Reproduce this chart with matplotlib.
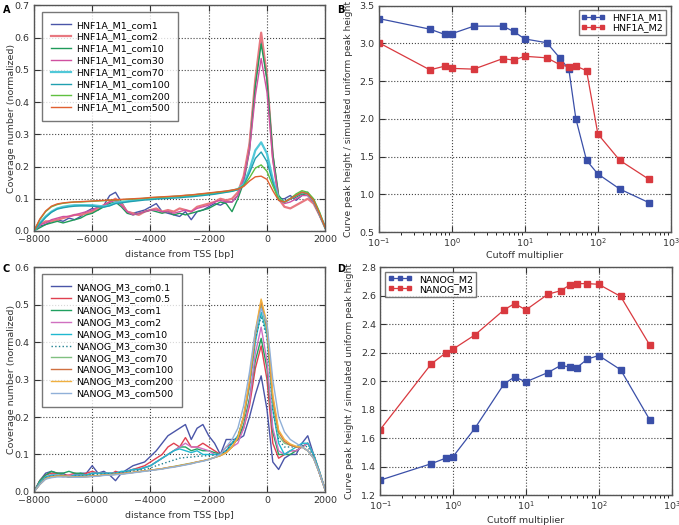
import matplotlib
matplotlib.use('Agg')
import matplotlib.pyplot as plt
import numpy as np

## Data
# distance from TSS, every 200 bp
dist = list(range(-8000, 2001, 200))

# Panel A : HNF1A_M1 coverage profiles
hnf_labels = ['HNF1A_M1_com1', 'HNF1A_M1_com2', 'HNF1A_M1_com10', 'HNF1A_M1_com30',
              'HNF1A_M1_com70', 'HNF1A_M1_com100', 'HNF1A_M1_com200', 'HNF1A_M1_com500']
hnf_com1 = [0.0, 0.015, 0.02, 0.03, 0.035, 0.03, 0.04, 0.035, 0.045, 0.06, 0.07, 0.065, 0.08, 0.11, 0.12,
            0.09, 0.06, 0.055, 0.06, 0.065, 0.075, 0.085, 0.06, 0.055, 0.05, 0.045, 0.06, 0.035, 0.06, 0.065,
            0.075, 0.085, 0.08, 0.09, 0.09, 0.11, 0.16, 0.27, 0.46, 0.60, 0.47, 0.23, 0.1, 0.1, 0.11,
            0.095, 0.11, 0.12, 0.09, 0.05, 0.01]
hnf_com2 = [0.0, 0.02, 0.03, 0.03, 0.035, 0.04, 0.045, 0.05, 0.05, 0.055, 0.06, 0.07, 0.08, 0.09, 0.1,
            0.085, 0.06, 0.055, 0.05, 0.06, 0.065, 0.07, 0.06, 0.065, 0.06, 0.07, 0.065, 0.06, 0.075, 0.08,
            0.085, 0.09, 0.1, 0.095, 0.1, 0.12, 0.17, 0.27, 0.47, 0.615, 0.48, 0.23, 0.1, 0.075, 0.07,
            0.08, 0.09, 0.1, 0.085, 0.05, 0.01]
hnf_com10 = [0.0, 0.01, 0.02, 0.025, 0.03, 0.025, 0.03, 0.035, 0.04, 0.05, 0.055, 0.065, 0.075, 0.085, 0.09,
             0.075, 0.055, 0.05, 0.055, 0.06, 0.065, 0.06, 0.055, 0.06, 0.05, 0.055, 0.05, 0.055, 0.06, 0.065,
             0.07, 0.08, 0.09, 0.085, 0.06, 0.1, 0.15, 0.25, 0.45, 0.58, 0.47, 0.24, 0.11, 0.09, 0.1,
             0.105, 0.115, 0.11, 0.09, 0.05, 0.01]
hnf_com30 = [0.0, 0.02, 0.025, 0.035, 0.04, 0.045, 0.045, 0.05, 0.055, 0.06, 0.065, 0.075, 0.08, 0.09, 0.095,
             0.08, 0.06, 0.05, 0.055, 0.06, 0.065, 0.065, 0.06, 0.06, 0.055, 0.06, 0.065, 0.06, 0.07, 0.075,
             0.08, 0.09, 0.095, 0.09, 0.09, 0.11, 0.16, 0.25, 0.42, 0.535, 0.43, 0.22, 0.1, 0.085, 0.09,
             0.1, 0.11, 0.11, 0.09, 0.05, 0.01]
hnf_com70 = [0.0, 0.025, 0.045, 0.06, 0.07, 0.075, 0.078, 0.08, 0.08, 0.08, 0.08, 0.078, 0.076, 0.08, 0.088,
             0.09, 0.092, 0.095, 0.097, 0.1, 0.1, 0.102, 0.103, 0.105, 0.106, 0.107, 0.108, 0.11, 0.112, 0.113,
             0.115, 0.117, 0.12, 0.122, 0.125, 0.13, 0.145, 0.19, 0.25, 0.275, 0.24, 0.16, 0.1, 0.09, 0.1,
             0.11, 0.12, 0.115, 0.095, 0.055, 0.01]
hnf_com100 = [0.0, 0.022, 0.042, 0.058, 0.068, 0.072, 0.075, 0.077, 0.078, 0.078, 0.077, 0.075, 0.074, 0.078, 0.085,
              0.087, 0.09, 0.092, 0.094, 0.096, 0.097, 0.099, 0.1, 0.101, 0.102, 0.103, 0.105, 0.106, 0.108, 0.11,
              0.112, 0.114, 0.117, 0.12, 0.123, 0.128, 0.142, 0.18, 0.225, 0.245, 0.215, 0.15, 0.095, 0.09, 0.1,
              0.11, 0.12, 0.115, 0.095, 0.055, 0.01]
hnf_com200 = [0.0, 0.035, 0.06, 0.075, 0.082, 0.086, 0.088, 0.09, 0.09, 0.091, 0.092, 0.093, 0.094, 0.095, 0.096,
              0.097, 0.098, 0.099, 0.1, 0.101, 0.103, 0.104, 0.105, 0.106, 0.107, 0.108, 0.11, 0.111, 0.113, 0.115,
              0.117, 0.119, 0.121, 0.123, 0.126, 0.13, 0.14, 0.165, 0.195, 0.205, 0.185, 0.14, 0.1, 0.09, 0.1,
              0.115, 0.125, 0.12, 0.1, 0.06, 0.01]
hnf_com500 = [0.0, 0.037, 0.062, 0.077, 0.084, 0.087, 0.089, 0.09, 0.091, 0.092, 0.093, 0.094, 0.095, 0.096, 0.097,
              0.098, 0.099, 0.1, 0.101, 0.102, 0.104, 0.105, 0.106, 0.107, 0.108, 0.109, 0.111, 0.112, 0.114, 0.116,
              0.118, 0.12, 0.122, 0.124, 0.127, 0.13, 0.138, 0.155, 0.168, 0.17, 0.16, 0.125, 0.095, 0.09, 0.1,
              0.11, 0.12, 0.115, 0.095, 0.055, 0.01]
hnf_colors = ['#4a55a8', '#e87880', '#1f9a5a', '#d050a0', '#50c8d8', '#20a0b0', '#60c040', '#e06030']
hnf_widths = [1.0, 1.6, 1.0, 1.0, 1.6, 1.0, 1.0, 1.0]

# Panel C : NANOG_M3 coverage profiles
nan_labels = ['NANOG_M3_com0.1', 'NANOG_M3_com0.5', 'NANOG_M3_com1', 'NANOG_M3_com2', 'NANOG_M3_com10',
              'NANOG_M3_com30', 'NANOG_M3_com70', 'NANOG_M3_com100', 'NANOG_M3_com200', 'NANOG_M3_com500']
nan_com01 = [0.0, 0.03, 0.05, 0.055, 0.05, 0.05, 0.04, 0.045, 0.05, 0.05, 0.07, 0.05, 0.055, 0.045, 0.03,
             0.05, 0.06, 0.07, 0.075, 0.08, 0.095, 0.11, 0.13, 0.15, 0.16, 0.17, 0.18, 0.14, 0.17, 0.18,
             0.15, 0.13, 0.1, 0.14, 0.14, 0.14, 0.15, 0.2, 0.26, 0.31, 0.22, 0.08, 0.06, 0.09, 0.1,
             0.1, 0.13, 0.15, 0.1, 0.05, 0.005]
nan_com05 = [0.0, 0.03, 0.045, 0.05, 0.05, 0.045, 0.045, 0.05, 0.045, 0.05, 0.055, 0.05, 0.05, 0.045, 0.055,
             0.05, 0.055, 0.06, 0.065, 0.07, 0.08, 0.09, 0.1, 0.12, 0.13, 0.12, 0.145, 0.12, 0.12, 0.13,
             0.12, 0.11, 0.1, 0.12, 0.13, 0.14, 0.17, 0.23, 0.33, 0.39, 0.3, 0.13, 0.09, 0.1, 0.11,
             0.11, 0.12, 0.13, 0.1, 0.05, 0.005]
nan_com1 = [0.0, 0.03, 0.045, 0.055, 0.05, 0.05, 0.055, 0.05, 0.05, 0.045, 0.05, 0.05, 0.05, 0.05, 0.05,
            0.05, 0.055, 0.06, 0.06, 0.065, 0.07, 0.08, 0.09, 0.1, 0.11, 0.12, 0.12, 0.11, 0.115, 0.11,
            0.11, 0.105, 0.1, 0.11, 0.13, 0.14, 0.18, 0.25, 0.35, 0.41, 0.33, 0.16, 0.1, 0.1, 0.1,
            0.11, 0.12, 0.13, 0.1, 0.055, 0.005]
nan_com2 = [0.0, 0.025, 0.04, 0.045, 0.045, 0.04, 0.045, 0.045, 0.045, 0.045, 0.05, 0.05, 0.05, 0.05, 0.05,
            0.05, 0.055, 0.06, 0.06, 0.065, 0.07, 0.08, 0.09, 0.1, 0.11, 0.12, 0.13, 0.12, 0.12, 0.115,
            0.11, 0.1, 0.1, 0.11, 0.12, 0.13, 0.17, 0.24, 0.37, 0.44, 0.35, 0.17, 0.11, 0.1, 0.11,
            0.11, 0.12, 0.13, 0.1, 0.055, 0.005]
nan_com10 = [0.0, 0.025, 0.04, 0.045, 0.045, 0.045, 0.04, 0.045, 0.045, 0.045, 0.05, 0.05, 0.05, 0.05, 0.05,
             0.055, 0.055, 0.06, 0.06, 0.065, 0.07, 0.08, 0.09, 0.1, 0.11, 0.115, 0.11, 0.105, 0.11, 0.1,
             0.1, 0.1, 0.1, 0.11, 0.13, 0.15, 0.2, 0.28, 0.4, 0.48, 0.42, 0.22, 0.13, 0.1, 0.11,
             0.12, 0.13, 0.13, 0.1, 0.055, 0.005]
nan_com30 = [0.0, 0.022, 0.038, 0.042, 0.043, 0.042, 0.04, 0.042, 0.043, 0.044, 0.046, 0.047, 0.048, 0.048, 0.05,
             0.052, 0.053, 0.056, 0.058, 0.06, 0.064, 0.07, 0.075, 0.08, 0.085, 0.09, 0.092, 0.093, 0.095, 0.096,
             0.097, 0.098, 0.1, 0.11, 0.13, 0.15, 0.2, 0.29, 0.41, 0.47, 0.41, 0.22, 0.14, 0.12, 0.12,
             0.12, 0.125, 0.12, 0.095, 0.05, 0.005]
nan_com70 = [0.0, 0.02, 0.036, 0.04, 0.042, 0.042, 0.04, 0.04, 0.041, 0.042, 0.043, 0.044, 0.045, 0.046, 0.047,
             0.049, 0.05, 0.052, 0.054, 0.056, 0.058, 0.06, 0.062, 0.065, 0.068, 0.071, 0.074, 0.077, 0.08, 0.083,
             0.087, 0.092, 0.097, 0.105, 0.12, 0.145, 0.2, 0.29, 0.42, 0.50, 0.43, 0.24, 0.15, 0.13, 0.125,
             0.12, 0.12, 0.11, 0.09, 0.05, 0.005]
nan_com100 = [0.0, 0.02, 0.035, 0.04, 0.042, 0.042, 0.041, 0.04, 0.04, 0.041, 0.042, 0.043, 0.045, 0.046, 0.047,
              0.048, 0.05, 0.052, 0.054, 0.056, 0.058, 0.06, 0.062, 0.065, 0.067, 0.07, 0.073, 0.076, 0.08, 0.083,
              0.087, 0.092, 0.097, 0.105, 0.12, 0.145, 0.2, 0.29, 0.42, 0.51, 0.44, 0.25, 0.16, 0.135, 0.125,
              0.12, 0.12, 0.11, 0.09, 0.05, 0.005]
nan_com200 = [0.0, 0.02, 0.035, 0.04, 0.042, 0.042, 0.042, 0.04, 0.04, 0.04, 0.042, 0.043, 0.045, 0.046, 0.047,
              0.048, 0.05, 0.052, 0.054, 0.056, 0.058, 0.06, 0.062, 0.065, 0.067, 0.07, 0.073, 0.076, 0.08, 0.083,
              0.087, 0.092, 0.097, 0.105, 0.12, 0.145, 0.205, 0.3, 0.43, 0.515, 0.45, 0.26, 0.165, 0.14, 0.128,
              0.122, 0.12, 0.11, 0.09, 0.05, 0.005]
nan_com500 = [0.0, 0.02, 0.034, 0.038, 0.04, 0.04, 0.04, 0.039, 0.039, 0.04, 0.041, 0.042, 0.044, 0.045, 0.046,
              0.047, 0.049, 0.051, 0.053, 0.055, 0.057, 0.059, 0.061, 0.064, 0.066, 0.069, 0.072, 0.075, 0.079, 0.082,
              0.086, 0.092, 0.1, 0.12, 0.14, 0.17, 0.23, 0.32, 0.43, 0.49, 0.45, 0.3, 0.2, 0.16, 0.14,
              0.13, 0.12, 0.11, 0.09, 0.05, 0.005]
nan_colors = ['#4a55a8', '#e04050', '#20a060', '#d070c0', '#20b8d0', '#208090', '#80c080', '#d07040',
              '#f0b040', '#90b0d8']

# Panels B and D : peak height ratio vs cutoff multiplier
cutoff = [0.1, 0.5, 0.8, 1, 2, 5, 7, 10, 20, 30, 40, 50, 70, 100, 200, 500]
hnf_m1 = [3.33, 3.19, 3.12, 3.13, 3.23, 3.23, 3.16, 3.06, 3.01, 2.81, 2.66, 2.0, 1.45, 1.27, 1.07, 0.89]
hnf_m2 = [3.01, 2.65, 2.70, 2.67, 2.66, 2.80, 2.78, 2.83, 2.81, 2.72, 2.69, 2.70, 2.64, 1.80, 1.45, 1.20]
nanog_m2 = [1.305, 1.42, 1.46, 1.47, 1.67, 1.98, 2.03, 1.995, 2.06, 2.11, 2.10, 2.095, 2.155, 2.18, 2.08, 1.73]
nanog_m3 = [1.66, 2.12, 2.20, 2.225, 2.325, 2.50, 2.545, 2.50, 2.61, 2.635, 2.675, 2.685, 2.685, 2.68, 2.595, 2.255]

BLUE = '#3a4fa8'
RED = '#d9393f'
FS = 6.8

plt.rcParams['font.family'] = ['DejaVu Sans']
plt.rcParams['font.size'] = FS


def style_axes(ax):
    ax.grid(True, color='#444444', linestyle=':', linewidth=0.8)
    ax.tick_params(direction='in', top=True, right=True, labelsize=FS, colors='#333333', length=4, pad=3)
    for s in ax.spines.values():
        s.set_color('#555555')
        s.set_linewidth(1.0)


def style_legend(leg):
    leg.get_frame().set_edgecolor('#555555')
    leg.get_frame().set_linewidth(1.0)


fig = plt.figure(figsize=(6.79, 5.25), dpi=100)
axA = fig.add_axes([0.050, 0.560, 0.429, 0.430])
axB = fig.add_axes([0.558, 0.558, 0.430, 0.431])
axC = fig.add_axes([0.050, 0.063, 0.429, 0.428])
axD = fig.add_axes([0.560, 0.057, 0.429, 0.434])

# Panel A
hnf_data = [hnf_com1, hnf_com2, hnf_com10, hnf_com30, hnf_com70, hnf_com100, hnf_com200, hnf_com500]
for lab, vals, c, w in zip(hnf_labels, hnf_data, hnf_colors, hnf_widths):
    axA.plot(dist, vals, color=c, lw=w, label=lab)
axA.set_xlim(-8000, 2000)
axA.set_ylim(0, 0.7)
axA.set_xticks(range(-8000, 2001, 2000))
axA.set_yticks(np.arange(0, 0.71, 0.1))
axA.set_xlabel('distance from TSS [bp]', color='#333333')
axA.set_ylabel('Coverage number (normalized)', color='#333333')
axA.yaxis.set_label_coords(-0.062, 0.5)
axA.xaxis.set_label_coords(0.5, -0.085)
style_axes(axA)
leg = axA.legend(loc='upper left', fontsize=FS, fancybox=False, handlelength=2.1, handletextpad=0.6,
                 borderpad=0.9, labelspacing=0.3, bbox_to_anchor=(0.012, 0.99))
style_legend(leg)

# Panel B
axB.plot(cutoff, hnf_m1, color=BLUE, marker='s', ms=4, lw=0.9, mec=BLUE, label='HNF1A_M1')
axB.plot(cutoff, hnf_m2, color=RED, marker='s', ms=4, lw=0.9, mec=RED, label='HNF1A_M2')
axB.set_xscale('log')
axB.set_xlim(0.1, 1000)
axB.set_ylim(0.5, 3.5)
axB.set_xlabel('Cutoff multiplier', color='#333333')
axB.set_ylabel('Curve peak height / simulated uniform peak height', color='#333333', fontsize=6.6)
axB.yaxis.set_label_coords(-0.09, 0.5)
axB.xaxis.set_label_coords(0.5, -0.085)
style_axes(axB)
leg = axB.legend(loc='upper right', fontsize=FS, fancybox=False, numpoints=3, handlelength=2.5,
                 borderpad=0.3, labelspacing=0.1, markerscale=0.8)
style_legend(leg)

# Panel C
nan_data = [nan_com01, nan_com05, nan_com1, nan_com2, nan_com10, nan_com30, nan_com70, nan_com100,
            nan_com200, nan_com500]
for lab, vals, c in zip(nan_labels, nan_data, nan_colors):
    ls = ':' if lab.endswith('com30') else '-'
    axC.plot(dist, vals, color=c, lw=1.0, ls=ls, label=lab)
axC.set_xlim(-8000, 2000)
axC.set_ylim(0, 0.6)
axC.set_xticks(range(-8000, 2001, 2000))
axC.set_yticks(np.arange(0, 0.61, 0.1))
axC.set_xlabel('distance from TSS [bp]', color='#333333')
axC.set_ylabel('Coverage number (normalized)', color='#333333')
axC.yaxis.set_label_coords(-0.062, 0.5)
axC.xaxis.set_label_coords(0.5, -0.085)
style_axes(axC)
leg = axC.legend(loc='upper left', fontsize=FS, fancybox=False, handlelength=2.1, handletextpad=0.6,
                 borderpad=0.9, labelspacing=0.3, bbox_to_anchor=(0.012, 0.99))
style_legend(leg)

# Panel D
axD.plot(cutoff, nanog_m2, color=BLUE, marker='s', ms=4, lw=0.9, mec=BLUE, label='NANOG_M2')
axD.plot(cutoff, nanog_m3, color=RED, marker='s', ms=4, lw=0.9, mec=RED, label='NANOG_M3')
axD.set_xscale('log')
axD.set_xlim(0.1, 1000)
axD.set_ylim(1.2, 2.8)
axD.set_xlabel('Cutoff multiplier', color='#333333')
axD.set_ylabel('Curve peak height / simulated uniform peak height', color='#333333', fontsize=6.6)
axD.yaxis.set_label_coords(-0.09, 0.5)
axD.xaxis.set_label_coords(0.5, -0.09)
style_axes(axD)
leg = axD.legend(loc='upper left', fontsize=FS, fancybox=False, numpoints=3, handlelength=2.5,
                 borderpad=0.3, labelspacing=0.1, markerscale=0.8)
style_legend(leg)

# panel letters
for lab, x, y in [('A', 0.004, 0.99), ('B', 0.496, 0.99), ('C', 0.004, 0.497), ('D', 0.496, 0.497)]:
    fig.text(x, y, lab, fontsize=7, fontweight='bold', va='top', ha='left')

fig.savefig('out.png', dpi=100)
